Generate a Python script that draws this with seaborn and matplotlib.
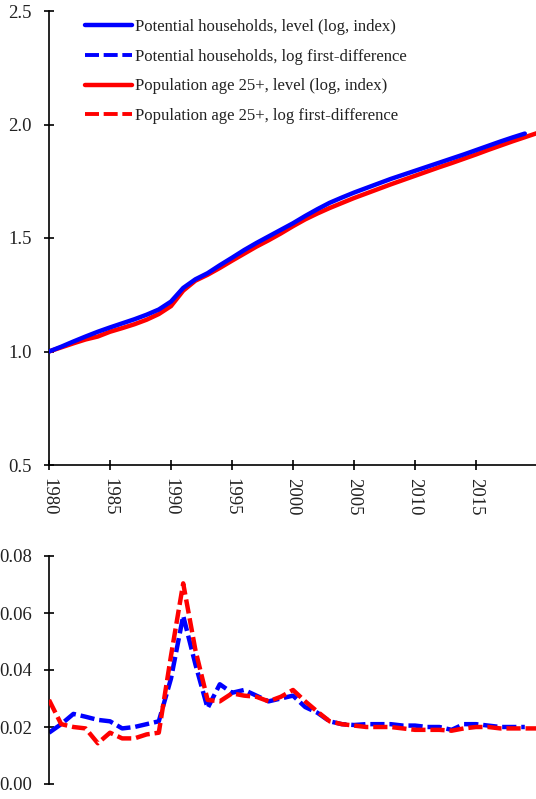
import matplotlib
matplotlib.use("Agg")
import matplotlib.pyplot as plt
import seaborn as sns
import pandas as pd
import numpy as np
from matplotlib.lines import Line2D

# ---------------- data ----------------
years_hh = list(range(1980, 2020))
years_pop = list(range(1980, 2021))

hh_level = [1.000, 1.021, 1.044, 1.066, 1.087, 1.106, 1.124, 1.142, 1.162, 1.185,
            1.220, 1.280, 1.318, 1.345, 1.380, 1.413, 1.447, 1.478, 1.507, 1.536,
            1.565, 1.597, 1.627, 1.655, 1.678, 1.700, 1.720, 1.740, 1.760, 1.778,
            1.796, 1.814, 1.832, 1.850, 1.868, 1.887, 1.906, 1.925, 1.943, 1.960]

pop_level = [1.000, 1.018, 1.036, 1.053, 1.066, 1.087, 1.103, 1.120, 1.140, 1.165,
             1.200, 1.268, 1.312, 1.338, 1.368, 1.400, 1.431, 1.462, 1.490, 1.520,
             1.552, 1.582, 1.608, 1.632, 1.654, 1.676, 1.696, 1.716, 1.736, 1.755,
             1.774, 1.793, 1.812, 1.830, 1.849, 1.868, 1.888, 1.907, 1.926, 1.944,
             1.962]

hh_diff = [0.018, 0.021, 0.0246, 0.0236, 0.0225, 0.022, 0.0195, 0.020, 0.021, 0.022,
           0.037, 0.059, 0.042, 0.0266, 0.035, 0.032, 0.033, 0.031, 0.029, 0.030,
           0.031, 0.027, 0.025, 0.022, 0.021, 0.0207, 0.021, 0.021, 0.021, 0.0205,
           0.0205, 0.020, 0.020, 0.019, 0.021, 0.021, 0.0205, 0.020, 0.020, 0.020]

pop_diff = [0.0295, 0.021, 0.020, 0.0195, 0.0143, 0.018, 0.016, 0.016, 0.0174, 0.018,
            0.045, 0.0704, 0.047, 0.0295, 0.029, 0.0318, 0.031, 0.0306, 0.029, 0.0306,
            0.033, 0.029, 0.0254, 0.022, 0.021, 0.0205, 0.020, 0.020, 0.020, 0.0195,
            0.019, 0.019, 0.019, 0.0187, 0.0195, 0.020, 0.020, 0.0195, 0.0195, 0.0195,
            0.0195]

labels = ["Potential households, level (log, index)",
          "Potential households, log first-difference",
          "Population age 25+, level (log, index)",
          "Population age 25+, log first-difference"]

top_yticks = [0.5, 1.0, 1.5, 2.0, 2.5]
bot_yticks = [0.00, 0.02, 0.04, 0.06, 0.08]
x_ticks = [1980, 1985, 1990, 1995, 2000, 2005, 2010, 2015]

BLUE = "#0000FF"
RED = "#FF0000"

# ---------------- style ----------------
sns.set_theme(style="white")
plt.rcParams["font.family"] = ["Liberation Serif", "DejaVu Serif"]
plt.rcParams["axes.linewidth"] = 1.2

W, H = 536, 799
fig = plt.figure(figsize=(W / 100, H / 100), dpi=100)

left = 49 / W
width = 488 / W
ax_top = fig.add_axes([left, 1 - 465 / H, width, (465 - 11) / H])
ax_bot = fig.add_axes([left, 1 - 784 / H, width, (784 - 556) / H])

df_hh_l = pd.DataFrame({"year": years_hh, "v": hh_level})
df_pop_l = pd.DataFrame({"year": years_pop, "v": pop_level})
df_hh_d = pd.DataFrame({"year": years_hh, "v": hh_diff})
df_pop_d = pd.DataFrame({"year": years_pop, "v": pop_diff})

lw_solid = 3.2
lw_dash = 3.2
dash = (3.2, 1.1)

sns.lineplot(data=df_hh_l, x="year", y="v", ax=ax_top, color=BLUE, lw=lw_solid,
             solid_capstyle="round", zorder=3)
sns.lineplot(data=df_pop_l, x="year", y="v", ax=ax_top, color=RED, lw=lw_solid,
             solid_capstyle="round", zorder=2)
sns.lineplot(data=df_hh_d, x="year", y="v", ax=ax_bot, color=BLUE, lw=lw_dash,
             zorder=2)
sns.lineplot(data=df_pop_d, x="year", y="v", ax=ax_bot, color=RED, lw=lw_dash,
             zorder=3)
for ln in ax_bot.get_lines():
    ln.set_dashes(dash)
    ln.set_dash_capstyle("butt")

for ax in (ax_top, ax_bot):
    ax.set_xlim(1980, 2020)
    ax.set_xlabel("")
    ax.set_ylabel("")
    for s in ("top", "right"):
        ax.spines[s].set_visible(False)
    for s in ("left", "bottom"):
        ax.spines[s].set_color("black")
        ax.spines[s].set_linewidth(1.2)
    ax.tick_params(axis="both", which="major", direction="inout", length=7,
                   width=1.2, color="black", labelsize=13.5, labelcolor="#222222",
                   left=True, bottom=True)
    ax.tick_params(axis="y", pad=9)
    ax.set_facecolor("none")

ax_top.set_ylim(0.5, 2.5)
ax_top.set_yticks(top_yticks)
ax_top.set_yticklabels([f"{t:.1f}" for t in top_yticks])
ax_top.set_xticks(x_ticks)
ax_top.set_xticklabels([str(t) for t in x_ticks], rotation=-90)
ax_top.tick_params(axis="x", pad=6)

ax_bot.set_ylim(0.0, 0.08)
ax_bot.set_yticks(bot_yticks)
ax_bot.set_yticklabels([f"{t:.2f}" for t in bot_yticks])
ax_bot.spines["bottom"].set_visible(False)
ax_bot.set_xticks([])

# legend
handles = [
    Line2D([], [], color=BLUE, lw=lw_solid),
    Line2D([], [], color=BLUE, lw=2.8, dashes=(3.6, 1.2), dash_capstyle="butt"),
    Line2D([], [], color=RED, lw=lw_solid),
    Line2D([], [], color=RED, lw=2.8, dashes=(3.6, 1.2), dash_capstyle="butt"),
]
leg = ax_top.legend(handles, labels, loc="upper left",
                    bbox_to_anchor=(26 / 488, 1.0 + 2 / 454), frameon=False,
                    fontsize=12, handlelength=2.8, handletextpad=0.2,
                    labelspacing=0.82, borderaxespad=0.2)
for t in leg.get_texts():
    t.set_color("#222222")

fig.savefig("out.png", dpi=100)
